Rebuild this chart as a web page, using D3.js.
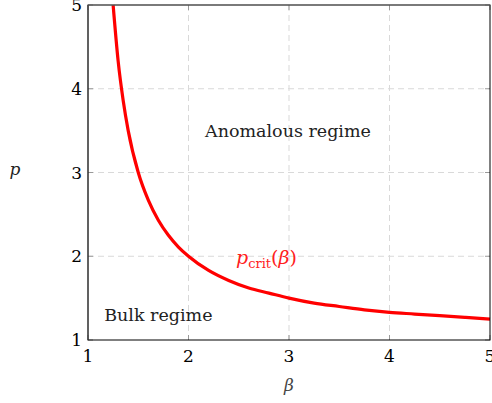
<!DOCTYPE html>
<html><head><meta charset="utf-8">
<script src="https://cdn.jsdelivr.net/npm/d3@7"></script>
<style>body{margin:0;background:#fff}svg{display:block}text{font-family:"DejaVu Serif","Liberation Serif",serif}</style>
</head><body><svg id="c" width="492" height="403"></svg>
<script>
const betaVals = [1.25,1.3,1.35,1.4,1.5,1.6,1.7,1.8,1.9,2.0,2.2,2.4,2.6,2.8,3.0,3.25,3.5,3.75,4.0,4.25,4.5,4.75,5.0];
const pVals    = [5.0,4.33,3.86,3.5,3.0,2.67,2.43,2.25,2.11,2.0,1.83,1.71,1.62,1.56,1.5,1.44,1.4,1.36,1.33,1.31,1.29,1.27,1.25];
const xTicks = [1,2,3,4,5];
const yTicks = [1,2,3,4,5];
const regionLabels = [{t:"Anomalous regime", b:2.99, p:3.5},{t:"Bulk regime", b:1.7, p:1.3}];

const svg = d3.select("#c");
const L=88,R=490,T=5,B=340;
const x = d3.scaleLinear().domain([1,5]).range([L,R]);
const y = d3.scaleLinear().domain([1,5]).range([B,T]);

// grid
svg.append("g").selectAll("line").data(xTicks.slice(1,-1)).join("line")
 .attr("x1",d=>x(d)).attr("x2",d=>x(d)).attr("y1",T).attr("y2",B)
 .attr("stroke","#d9d9d9").attr("stroke-width",1).attr("stroke-dasharray","6,4");
svg.append("g").selectAll("line").data(yTicks.slice(1,-1)).join("line")
 .attr("y1",d=>y(d)).attr("y2",d=>y(d)).attr("x1",L).attr("x2",R)
 .attr("stroke","#d9d9d9").attr("stroke-width",1).attr("stroke-dasharray","6,4");

// inner ticks
const tk = svg.append("g").attr("stroke","#999").attr("stroke-width",1);
xTicks.forEach(d=>{tk.append("line").attr("x1",x(d)).attr("x2",x(d)).attr("y1",B).attr("y2",B-5);
 tk.append("line").attr("x1",x(d)).attr("x2",x(d)).attr("y1",T).attr("y2",T+5);});
yTicks.forEach(d=>{tk.append("line").attr("y1",y(d)).attr("y2",y(d)).attr("x1",L).attr("x2",L+5);
 tk.append("line").attr("y1",y(d)).attr("y2",y(d)).attr("x1",R).attr("x2",R-5);});

// curve
svg.append("path").datum(betaVals.map((b,i)=>[b,pVals[i]]))
 .attr("d",d3.line().curve(d3.curveMonotoneX).x(d=>x(d[0])).y(d=>y(d[1])))
 .attr("fill","none").attr("stroke","#ff0000").attr("stroke-width",3.2).attr("stroke-linejoin","round");

// frame
svg.append("rect").attr("x",L).attr("y",T).attr("width",R-L).attr("height",B-T)
 .attr("fill","none").attr("stroke","#000").attr("stroke-width",1);
svg.append("line").attr("x1",L).attr("x2",R).attr("y1",T).attr("y2",T).attr("stroke","#777");
svg.append("line").attr("x1",L).attr("x2",L).attr("y1",T).attr("y2",B).attr("stroke","#444");

// tick labels
svg.append("g").selectAll("text").data(xTicks).join("text")
 .attr("x",d=>x(d)).attr("y",B+22).attr("text-anchor","middle").attr("font-size",17).text(d=>d);
svg.append("g").selectAll("text").data(yTicks).join("text")
 .attr("x",L-6).attr("y",d=>y(d)+6).attr("text-anchor","end").attr("font-size",17).text(d=>d);

// axis labels
svg.append("text").attr("x",(L+R)/2).attr("y",391).attr("text-anchor","middle")
 .attr("font-size",17).attr("font-style","italic").attr("fill","#444").text("β");
svg.append("text").attr("x",15).attr("y",y(3)+2).attr("text-anchor","middle")
 .attr("font-size",17).attr("font-style","italic").attr("fill","#222").text("p");

// region labels
svg.append("g").selectAll("text").data(regionLabels).join("text")
 .attr("x",d=>x(d.b)).attr("y",d=>y(d.p)+6).attr("text-anchor","middle")
 .attr("font-size",17.5).attr("fill","#222").text(d=>d.t);

// curve label
const cl = svg.append("text").attr("x",236).attr("y",264).attr("fill","#ff2020").attr("font-size",19);
cl.append("tspan").attr("font-style","italic").text("p");
cl.append("tspan").attr("font-size",13).attr("dy",4).text("crit");
cl.append("tspan").attr("dy",-4).text("(");
cl.append("tspan").attr("font-style","italic").text("β");
cl.append("tspan").text(")");
</script></body></html>
